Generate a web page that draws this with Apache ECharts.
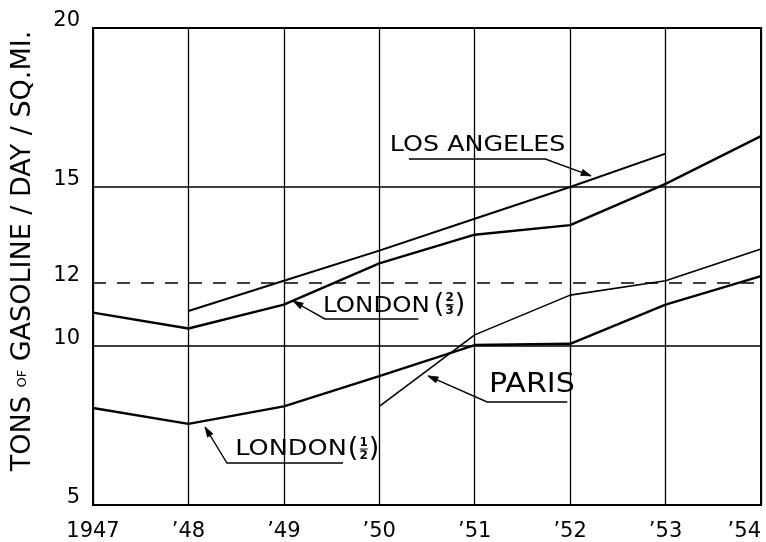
<!DOCTYPE html>
<html><head><meta charset="utf-8">
<script src="https://cdn.jsdelivr.net/npm/echarts@6/dist/echarts.min.js"></script>
<style>html,body{margin:0;padding:0;background:#fff}#c{width:766px;height:542px}</style>
</head><body><div id="c"></div>
<script>
// ---- data ----
const years = [1947, 1948, 1949, 1950, 1951, 1952, 1953, 1954];
const xTickLabels = ['1947', '’48', '’49', '’50', '’51', '’52', '’53', '’54'];
const yTickValues = [5, 10, 12, 15, 20];
const yTickLabels = ['5', '10', '12', '15', '20'];
const losAngeles = [null, 11.1, 12.05, 13.0, 14.0, 15.0, 16.05, null];
const london23   = [11.05, 10.55, 11.3, 12.6, 13.5, 13.8, 15.1, 16.6];
const paris      = [null, null, null, 8.1, 10.35, 11.6, 12.05, 13.05];
const london12   = [8.05, 7.55, 8.1, 9.05, 10.03, 10.07, 11.3, 12.2];
const refLines   = [10, 12, 15];
const refDashed  = [false, true, false];
const axisTitle  = ['TONS ', 'OF', ' GASOLINE / DAY / SQ.MI.'];

// ---- layout / style ----
const FONT = '"DejaVu Sans", sans-serif';
const chart = echarts.init(document.getElementById('c'), null, {renderer: 'canvas'});
const pairs = arr => years.map((y, i) => [y, arr[i]]).filter(p => p[1] != null);
const mkLine = (name, arr, w) => ({
  name, type: 'line', data: pairs(arr), symbol: 'none', silent: true,
  lineStyle: {color: '#000', width: w}, z: 5
});

const seriesList = [
  mkLine('LOS ANGELES', losAngeles, 2),
  mkLine('LONDON (2/3)', london23, 2.4),
  mkLine('PARIS', paris, 1.6),
  mkLine('LONDON (1/2)', london12, 2.4)
];
seriesList[1].markLine = {
  silent: true, symbol: 'none', animation: false, label: {show: false},
  data: refLines.map((v, i) => ({
    yAxis: v,
    lineStyle: {color: '#000', width: 1.5, type: refDashed[i] ? [13, 11] : 'solid'}
  }))
};

chart.setOption({
  animation: false,
  backgroundColor: '#fff',
  grid: {left: 93, right: 5, top: 28, bottom: 37, show: true, borderColor: '#000', borderWidth: 2,
         containLabel: false, outerBoundsMode: 'none'},
  xAxis: {
    type: 'value', min: 1947, max: 1954, interval: 1,
    axisLine: {show: false}, axisTick: {show: false},
    splitLine: {show: true, lineStyle: {color: '#000', width: 1.3}},
    axisLabel: {
      formatter: v => xTickLabels[years.indexOf(v)] || '',
      color: '#000', fontFamily: FONT, fontSize: 21, margin: 16, alignMaxLabel: 'right'
    }
  },
  yAxis: {
    type: 'value', min: 5, max: 20, interval: 1,
    axisLine: {show: false}, axisTick: {show: false}, splitLine: {show: false},
    axisLabel: {
      formatter: v => { const i = yTickValues.indexOf(v); return i >= 0 ? yTickLabels[i] : ''; },
      color: '#000', fontFamily: FONT, fontSize: 21, margin: 13, verticalAlign: 'bottom', lineHeight: 14
    }
  },
  series: seriesList
});

// ---- annotations (positions in data coordinates) ----
const annotations = [
  {text: 'LOS ANGELES', size: 21, span: [1950.11, 1951.95], mid: 16.3,
   leader: [[1952.22, 15.35], [1951.74, 15.88], [1950.31, 15.88]]},
  {text: 'LONDON', size: 21, span: [1949.41, 1950.53], mid: 11.24, frac: ['2', '3'], fracAt: [1950.57, 11.3],
   leader: [[1949.096, 11.415], [1949.43, 10.85], [1950.41, 10.85]]},
  {text: 'PARIS', size: 27, span: [1951.15, 1952.05], mid: 8.77,
   leader: [[1950.51, 9.06], [1951.13, 8.24], [1951.97, 8.24]]},
  {text: 'LONDON', size: 21, span: [1948.49, 1949.66], mid: 6.745, frac: ['1', '2'], fracAt: [1949.67, 6.76],
   leader: [[1948.174, 7.453], [1948.404, 6.321], [1949.62, 6.321]]}
];

const ctx = document.createElement('canvas').getContext('2d');
const measure = (t, size) => { ctx.font = size + 'px ' + FONT; return ctx.measureText(t).width; };
const px = p => chart.convertToPixel({gridIndex: 0}, p);
const els = [];

annotations.forEach(a => {
  const L = px([a.span[0], a.mid]), R = px([a.span[1], a.mid]);
  const sx = (R[0] - L[0]) / measure(a.text, a.size);
  els.push({type: 'text', x: L[0], y: L[1], scaleX: sx, z: 10, silent: true,
    style: {text: a.text, fill: '#000', font: a.size + 'px ' + FONT, textAlign: 'left', textVerticalAlign: 'middle'}});
  const pts = a.leader.map(px);
  els.push({type: 'polyline', z: 10, silent: true, shape: {points: pts},
    style: {stroke: '#000', lineWidth: 1.4, fill: null}});
  const T = pts[0], K = pts[1];
  let dx = T[0] - K[0], dy = T[1] - K[1]; const len = Math.hypot(dx, dy); dx /= len; dy /= len;
  const bx = T[0] - dx * 10, by = T[1] - dy * 10, nx = -dy, ny = dx;
  els.push({type: 'polygon', z: 10, silent: true,
    shape: {points: [T, [bx + nx * 3.2, by + ny * 3.2], [bx - nx * 3.2, by - ny * 3.2]]},
    style: {fill: '#000', stroke: '#000', lineWidth: 0.8}});
  if (a.frac) {
    const F = px(a.fracAt);
    const tx = (s, x, y, size, align, weight) => els.push({type: 'text', x, y, z: 10, silent: true,
      style: {text: s, fill: '#000', font: (weight || 'normal') + ' ' + size + 'px ' + FONT, textAlign: align, textVerticalAlign: 'middle'}});
    tx('(', F[0], F[1], 27, 'left');
    tx(a.frac[0], F[0] + 16, F[1] - 6.5, 12, 'center', 'bold');
    tx(a.frac[1], F[0] + 16, F[1] + 6.5, 12, 'center', 'bold');
    els.push({type: 'line', z: 10, silent: true, shape: {x1: F[0] + 12, y1: F[1], x2: F[0] + 20, y2: F[1]},
      style: {stroke: '#000', lineWidth: 1}});
    tx(')', F[0] + 21, F[1], 27, 'left');
  }
});

// rotated axis title
els.push({type: 'text', x: 23, y: 251, rotation: Math.PI / 2, z: 10, silent: true,
  style: {
    text: '{a|' + axisTitle[0] + '}{b|' + axisTitle[1] + '}{a|' + axisTitle[2] + '}',
    rich: {a: {fontSize: 27, fontFamily: FONT, fill: '#000'}, b: {fontSize: 13, fontFamily: FONT, fill: '#000'}},
    fill: '#000', textAlign: 'center', textVerticalAlign: 'middle'
  }});

chart.setOption({graphic: {elements: els}});
</script>
</body></html>
